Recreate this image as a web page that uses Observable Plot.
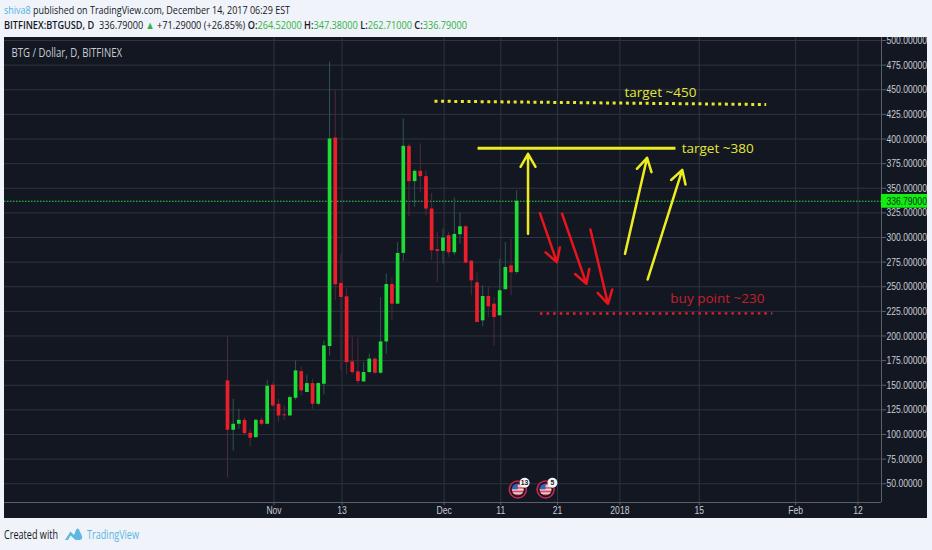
<!DOCTYPE html>
<html><head><meta charset="utf-8">
<script src="https://cdn.jsdelivr.net/npm/d3@7"></script>
<script src="https://cdn.jsdelivr.net/npm/@observablehq/plot@0.6"></script>
<style>
html,body{margin:0;padding:0;background:#f0f3f9;width:932px;height:550px;overflow:hidden}
body{font-family:"Open Sans",sans-serif;color:#141824;position:relative}
.fit{position:absolute;left:4px;white-space:pre;transform-origin:0 50%;line-height:14px}
#l1{top:3px;font-size:11px}
#l2{top:18px;font-size:11px}
#l2 b{font-weight:600}
#l2 i{font-style:normal;color:#2fb344}
#l1 span{color:#4db6e2}
#chart{position:absolute;left:4px;top:37px}
#chart svg{display:block}
#foot{top:528px;font-size:12.5px}
#logo{position:absolute;left:64px;top:527px}
#tv{position:absolute;left:87px;top:528px;font-size:12.5px;color:#5bb8e0;line-height:14px;white-space:pre;transform-origin:0 50%}
</style></head><body>
<div class="fit" id="l1"><span>shiva8</span> published on TradingView.com, December 14, 2017 06:29 EST</div>
<div class="fit" id="l2"><b>BITFINEX:BTGUSD, D</b>  336.79000 <i>▲</i> +71.29000 (+26.85%) <b>O:</b><i>264.52000</i> <b>H:</b><i>347.38000</i> <b>L:</b><i>262.71000</i> <b>C:</b><i>336.79000</i></div>
<div id="chart"></div>
<div class="fit" id="foot">Created with</div>
<svg id="logo" width="19" height="15" viewBox="0 0 19 15"><path d="M1 13 L6.5 4.5 L10 8 L12.5 2 Q14 1 15 2.5 L18 9 Q19 13 15 13 L11.5 13 L6.5 8.5 L4 13 Z" fill="#5bb8e0"/></svg>
<div id="tv">TradingView</div>
<script>
// Daily candles, first one on Oct 24 2017 (day -8 counted from Nov 1)
const opens  = [154.4,104.3,110.4,114.4,101.2,96.8,114.4,110.4,150,130.7,120,118.8,136.8,163.9,142.6,151.7,130.7,151,189.3,401,253.3,239.8,173.7,163.6,153.4,162.9,176.5,162.2,194,252.3,232.3,283.8,392.6,356.7,367.2,361.8,328.9,287.6,285.9,301.8,284.5,302.8,310.9,276,254,215.4,240.1,232.3,220.5,247,271.3,264.52];
const highs  = [199.1,135.8,125.6,117.1,105.3,115.4,117.1,155.1,152.7,135.8,129,139.2,174.8,168.6,160.5,156.1,152.7,195.1,478,449,283,247.6,199,198,173,181.6,178,239,262.8,259.4,295,420.4,395,368.9,395,367.9,344.8,305,308.6,305.2,340,324.8,312,276.4,263.8,251,249.3,239,278,295,298.4,347.38];
const lows   = [56.2,83.3,105.3,98.5,87.3,96.2,108.7,109.7,127.3,112.1,114.4,118.8,134.8,139.2,142.6,125.6,129,140.2,179.8,235.7,164.6,160.5,161,150.4,152.7,162,160.5,161,181.5,216,232.3,275.4,321,330.6,345.8,322,277,254.4,273,279.8,281.5,293.3,273,240.8,213.7,209.3,218.8,190,220.5,247,240.8,262.71];
const closes = [104.3,110.4,114.4,100.9,96.2,114.4,110.4,149,129,118.8,119,137.5,164.6,144.3,151.7,130.7,151.7,190,400,252,239.1,173,162.9,153.8,162.9,176.5,162.2,194,252.3,232.3,283.8,392.6,356.7,367.2,361.8,328.9,286.5,285.9,299.4,284.5,303.1,310.9,274,256,213.7,240.1,229.6,218.8,245.9,269.6,264.2,336.79];
const firstDay = -8, barOffset = -0.2;
const candles = opens.map((open, i) => ({day: firstDay + i + barOffset, open, high: highs[i], low: lows[i], close: closes[i]}));

// Axes
const xDomain = [-47.53, 107.14];
const yDomain = [30.96, 503.05];
const priceTicks = [50,75,100,125,150,175,200,225,250,275,300,325,350,375,400,425,450,475,500];
const dayTicks = [0,12,30,40,50,61,75,92,103];
const dayLabels = ["Nov","13","Dec","11","21","2018","15","Feb","12"];
const lastPrice = 336.79;

// Hand-drawn annotations, in (day, price)
const targetLine = [{day:35.9, price:390.7},{day:70.8, price:390.7}];
const dottedYellow = [{day:28.3, price:438.4},{day:86.8, price:435}];
const dottedRed = [{day:46.9, price:222.8},{day:87.9, price:223}];
const yellowArrows = [
  {x1:44.8,y1:303.8,x2:44.8,y2:385},
  {x1:61.9,y1:283.4,x2:65.8,y2:380.9},
  {x1:65.9,y1:257.4,x2:72,y2:368.7}];
const redArrows = [
  {x1:46.9,y1:324.7,x2:49.9,y2:274.9},
  {x1:50.8,y1:324.1,x2:55.1,y2:253},
  {x1:55.8,y1:308.1,x2:58.9,y2:232.7}];
const notes = [
  {day:61.8, price:446.7, text:"target ~450", color:"#e4e635"},
  {day:71.9, price:390.4, text:"target ~380", color:"#e4e635"},
  {day:69.9, price:238, text:"buy point ~230", color:"#c4202c"}];
const flags = [{day:43, price:44.2},{day:47.9, price:44.2}];
const badges = [{day:44.2, price:51, text:"13"},{day:49.1, price:51, text:"5"}];

const narrow = '"Liberation Sans",sans-serif';
const axisColor = "#5a5f6b", gridColor = "#30343f";
const up = d => d.close >= d.open;
const tagged = name => ({render: (index, scales, values, dims, context, next) => {
  const g = next(index, scales, values, dims, context);
  g.setAttribute("data-tag", name);
  return g;
}});

const plot = Plot.plot({
  width: 923, height: 481,
  marginLeft: 0, marginRight: 46, marginTop: 0, marginBottom: 16,
  x: {domain: xDomain},
  y: {domain: yDomain},
  style: {background: "#131722", fontFamily: narrow, overflow: "hidden"},
  marks: [
    Plot.gridY(priceTicks, {stroke: gridColor, strokeOpacity: 1}),
    Plot.gridX(dayTicks, {stroke: gridColor, strokeOpacity: 1}),
    Plot.ruleY([lastPrice], {stroke: "#2ce83f", strokeWidth: 1, strokeDasharray: "1.5 1.5"}),
    Plot.ruleX(candles, {x: "day", y1: "low", y2: "high", strokeWidth: 1, stroke: d => up(d) ? "#2c5650" : "#4f2a38"}),
    Plot.ruleX(candles, {x: "day", y1: "open", y2: "close", strokeWidth: 3.7, stroke: d => up(d) ? "#1fdc36" : "#ea1f2b"}),
    Plot.ruleX([xDomain[1]], {stroke: axisColor}),
    Plot.ruleY([yDomain[0]], {stroke: axisColor}),
    Plot.axisY(priceTicks, {anchor: "right", label: null, tickSize: 4, tickPadding: 1, stroke: axisColor,
      color: "#c8cbd2", fontSize: 11, tickFormat: d => d.toFixed(5)}),
    Plot.axisX(dayTicks, {anchor: "bottom", label: null, tickSize: 3, tickPadding: 1, stroke: axisColor,
      color: "#c8cbd2", fontSize: 11, tickFormat: d => dayLabels[dayTicks.indexOf(d)]}),
    Plot.rect([{x1: xDomain[1], x2: 115.3, y1: 329.7, y2: 343.7}], {x1: "x1", x2: "x2", y1: "y1", y2: "y2", fill: "#12ee12", clip: false}),
    Plot.text([lastPrice], {x: 108, y: d => d, text: d => d.toFixed(5), textAnchor: "start", fill: "#10301a", fontSize: 11, clip: false, ...tagged("lastPrice")}),
    Plot.line(dottedYellow, {x: "day", y: "price", stroke: "#e6e829", strokeWidth: 3, strokeDasharray: "3 3.6", strokeLinecap: "butt"}),
    Plot.line(dottedRed, {x: "day", y: "price", stroke: "#dc2030", strokeWidth: 2.4, strokeDasharray: "2.6 4", strokeLinecap: "butt"}),
    Plot.line(targetLine, {x: "day", y: "price", stroke: "#ecec20", strokeWidth: 3, strokeLinecap: "butt"}),
    Plot.arrow(yellowArrows, {x1: "x1", y1: "y1", x2: "x2", y2: "y2", stroke: "#ecec20", strokeWidth: 2.5, bend: 0, headLength: 9}),
    Plot.arrow(redArrows, {x1: "x1", y1: "y1", x2: "x2", y2: "y2", stroke: "#e8141e", strokeWidth: 2.5, bend: 0, headLength: 9}),
    Plot.text(notes, {x: "day", y: "price", text: "text", fill: "color", textAnchor: "start",
      fontSize: 13.5, fontFamily: '"Open Sans",sans-serif'}),
    Plot.dot(flags, {x: "day", y: "price", r: 8.5, fill: "#1a1620", stroke: "#c22a52", strokeWidth: 1.6}),
    Plot.dot(flags, {x: "day", y: "price", r: 6, fill: "url(#usflag)"}),
    Plot.dot(badges, {x: "day", y: "price", r: 5, fill: "#f4f4f6"}),
    Plot.text(badges, {x: "day", y: "price", text: "text", fill: "#222", fontSize: 8, fontWeight: 700, ...tagged("badge")}),
    Plot.text(["BTG / Dollar, D, BITFINEX"], {x: xDomain[0], y: 487, dx: 7, text: d => d, textAnchor: "start",
      fill: "#c9ccd3", fontSize: 12, fontFamily: '"Open Sans",sans-serif', ...tagged("title")})
  ]
});
plot.insertAdjacentHTML("afterbegin", `<defs><pattern id="usflag" patternContentUnits="objectBoundingBox" width="1" height="1">
<rect width="1" height="1" fill="#f4f4f6"/><rect y="0" width="1" height=".14" fill="#d8344a"/><rect y=".3" x=".45" width=".55" height=".14" fill="#d8344a"/>
<rect y=".6" width="1" height=".15" fill="#d8344a"/><rect y=".88" width="1" height=".12" fill="#d8344a"/><rect width=".5" height=".5" fill="#3f5fb5"/></pattern></defs>`);
document.getElementById("chart").append(plot);

// Squeeze the texts to the narrower face of the reference
const condense = (selector, k) => plot.querySelectorAll(selector).forEach(t => {
  const x = +t.getAttribute("x") || 0;
  const base = t.getAttribute("transform") || "";
  t.setAttribute("transform", `${base} translate(${x},0) scale(${k},1) translate(${-x},0)`);
});
condense('[aria-label="y-axis tick label"] text', 0.78);
condense('[aria-label="x-axis tick label"] text', 0.78);
condense('[data-tag="lastPrice"] text', 0.78);
condense('[data-tag="badge"] text', 0.85);
condense('[data-tag="title"] text', 0.8);
const fit = (id, w) => { const e = document.getElementById(id); e.style.transform = `scaleX(${w / e.getBoundingClientRect().width})`; };
fit("l1", 286); fit("l2", 463); fit("foot", 54); fit("tv", 52);
</script>
</body></html>
